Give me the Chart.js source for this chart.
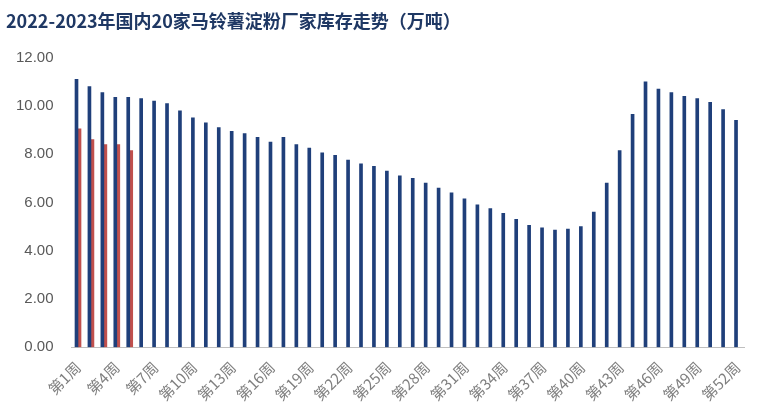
<!DOCTYPE html>
<html><head><meta charset="utf-8">
<script src="https://cdn.jsdelivr.net/npm/chart.js@4/dist/chart.umd.min.js"></script>
<style>html,body{margin:0;padding:0;background:#fff}#w{width:768px;height:413px}</style>
</head><body><div id="w"><canvas id="c"></canvas></div>
<script>
const categories = Array.from({length:52},(_,i)=>'第'+(i+1)+'周');
const series2022 = [11.1,10.8,10.55,10.35,10.35,10.3,10.2,10.1,9.8,9.5,9.3,9.1,8.95,8.85,8.7,8.5,8.7,8.4,8.25,8.05,7.95,7.75,7.6,7.5,7.3,7.1,7.0,6.8,6.6,6.4,6.15,5.9,5.75,5.55,5.3,5.05,4.95,4.85,4.9,5.0,5.6,6.8,8.15,9.65,11.0,10.7,10.55,10.4,10.3,10.15,9.85,9.4];
const series2023 = [9.05,8.6,8.4,8.4,8.15];
const yTicks = [0,2,4,6,8,10,12];
new Chart(document.getElementById('c'),{
 type:'bar',
 data:{labels:categories,datasets:[
  {label:'2022年',data:series2022,backgroundColor:'#1f3f7a',barThickness:3},
  {label:'2023年',data:series2023,backgroundColor:'#c0504d',barThickness:3}
 ]},
 options:{responsive:true,maintainAspectRatio:false,animation:false,
  layout:{padding:{left:6,right:24,top:4,bottom:6}},
  plugins:{legend:{display:false},
   title:{display:true,text:'2022-2023年国内20家马铃薯淀粉厂家库存走势（万吨）',align:'start',color:'#1f3864',
    font:{family:'Noto Sans CJK SC',size:18,weight:'bold'},padding:{top:6,bottom:26}}},
  scales:{
   x:{grid:{display:false},border:{color:'#bfbfbf'},
    ticks:{color:'#7f7f7f',font:{family:'Noto Sans CJK SC',size:15},maxRotation:45,minRotation:45,autoSkip:false,
     callback:function(v,i){return i%3===0?categories[i]:'';}}},
   y:{min:0,max:12,grid:{display:false},border:{display:false},
    afterBuildTicks:a=>{a.ticks=yTicks.map(v=>({value:v}));},
    ticks:{color:'#595959',padding:10,font:{family:'Liberation Sans',size:15},callback:v=>v.toFixed(2)}}
  }}
});
</script></body></html>
